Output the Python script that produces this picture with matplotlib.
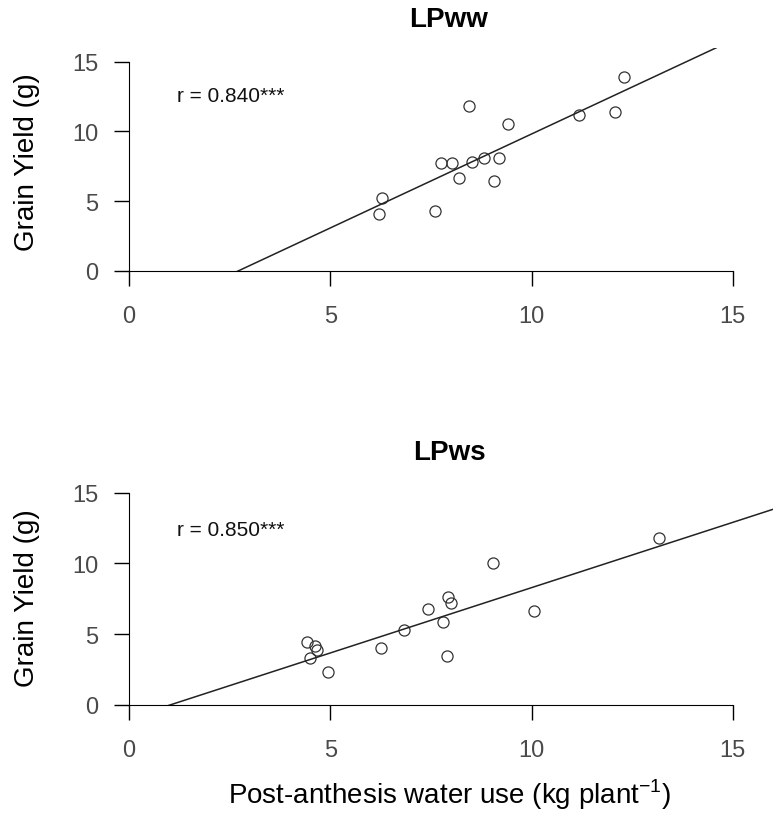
import matplotlib
matplotlib.use("Agg")
import matplotlib.pyplot as plt
import numpy as np

plt.rcParams['font.family'] = ['Liberation Sans', 'DejaVu Sans']

# LPww panel (post-anthesis water use vs grain yield)
ww_water = [6.20, 6.28, 7.60, 7.76, 8.02, 8.20, 8.44, 8.52, 8.82, 9.07, 9.19, 9.42, 11.17, 12.07, 12.31]
ww_yield = [4.07, 5.20, 4.31, 7.73, 7.73, 6.63, 11.85, 7.83, 8.11, 6.42, 8.11, 10.53, 11.18, 11.41, 13.90]
ww_slope, ww_intercept = 1.349, -3.68
ww_r = "r = 0.840***"

# LPws panel
ws_water = [4.41, 4.49, 4.63, 4.68, 4.94, 6.26, 6.84, 7.44, 7.81, 7.89, 7.92, 8.00, 9.05, 10.05, 13.18]
ws_yield = [4.42, 3.29, 4.14, 3.87, 2.34, 4.00, 5.29, 6.76, 5.84, 3.43, 7.63, 7.18, 10.01, 6.64, 11.81]
ws_slope, ws_intercept = 0.925, -0.962
ws_r = "r = 0.850***"

ticks = [0, 5, 10, 15]

fig = plt.figure(figsize=(7.73, 8.2), dpi=100)
ax_top = fig.add_axes([0.1669, 0.6687, 0.8331, 0.2718])
ax_bot = fig.add_axes([0.1669, 0.1394, 0.8331, 0.2755])


def draw_panel(ax, x, y, slope, intercept, r_text, r_y):
    ax.plot(x, y, 'o', markersize=8, markerfacecolor='none',
            markeredgecolor='#333333', markeredgewidth=0.9)
    xs = np.array([0, 16.5])
    ax.plot(xs, slope * xs + intercept, color='#222222', lw=1.1)
    ax.set_xlim(0, 16)
    ax.set_ylim(0, 16)
    ax.set_xticks(ticks)
    ax.set_yticks(ticks)
    for side in ['top', 'right']:
        ax.spines[side].set_visible(False)
    ax.spines['left'].set_bounds(0, 15)
    ax.spines['bottom'].set_bounds(0, 15)
    ax.tick_params(axis='both', length=11, width=1, labelsize=17, labelcolor='#4a4a4a')
    ax.tick_params(axis='x', pad=14)
    ax.tick_params(axis='y', pad=11)
    ax.text(1.19, r_y, r_text, fontsize=15, ha='left', va='center', color='#111111')


draw_panel(ax_top, ww_water, ww_yield, ww_slope, ww_intercept, ww_r, 12.6)
draw_panel(ax_bot, ws_water, ws_yield, ws_slope, ws_intercept, ws_r, 12.44)

# titles and axis labels
fig.text(449 / 773, 1 - 20 / 820, "LPww", fontsize=20, fontweight='bold', ha='center', va='center')
fig.text(449 / 773, 1 - 453 / 820, "LPws", fontsize=20, fontweight='bold', ha='center', va='center')
fig.text(27 / 773, 1 - 162 / 820, "Grain Yield (g)", fontsize=20, rotation=90, ha='center', va='center')
fig.text(27 / 773, 1 - 598 / 820, "Grain Yield (g)", fontsize=20, rotation=90, ha='center', va='center')
fig.text(450 / 773, 1 - 795 / 820, r"Post-anthesis water use (kg plant$^{\mathregular{-1}}$)",
         fontsize=20, ha='center', va='center')

plt.savefig("out.png", dpi=100)
